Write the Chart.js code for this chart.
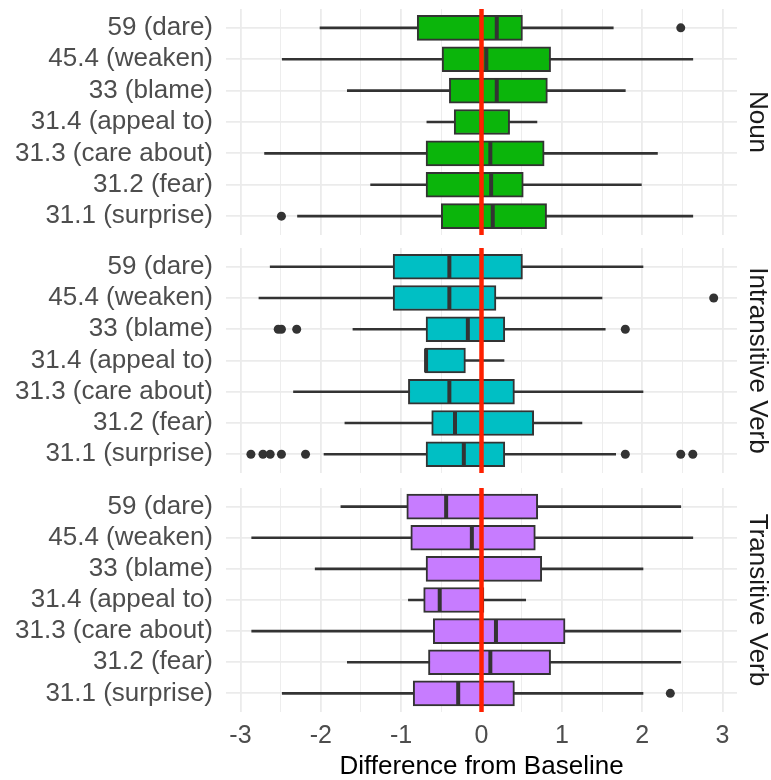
<!DOCTYPE html>
<html>
<head>
<meta charset="utf-8">
<script src="https://cdn.jsdelivr.net/npm/chart.js@4.4.1/dist/chart.umd.min.js"></script>
<style>
  html, body { margin: 0; padding: 0; background: #fff; }
  #wrap { position: relative; width: 771px; height: 780px; overflow: hidden; }
  canvas { position: absolute; left: 0; }
</style>
</head>
<body>
<div id="wrap">
  <canvas id="panel0" width="771" height="242" style="top:0px"></canvas>
  <canvas id="panel1" width="771" height="239" style="top:242px"></canvas>
  <canvas id="panel2" width="771" height="299" style="top:481px"></canvas>
</div>
<script>
// ---------- data ----------
const CATEGORIES = [
  "59 (dare)", "45.4 (weaken)", "33 (blame)", "31.4 (appeal to)",
  "31.3 (care about)", "31.2 (fear)", "31.1 (surprise)"
];
const PANELS = ["Noun", "Intransitive Verb", "Transitive Verb"];
const X_TICKS = [-3, -2, -1, 0, 1, 2, 3];
const BASELINE = 0;
const AXIS_TITLE = "Difference from Baseline";

// rows follow CATEGORIES (top to bottom)
const NOUN_LO  = [-2.01, -2.48, -1.67, -0.68, -2.70, -1.38, -2.29];
const NOUN_Q1  = [-0.80, -0.49, -0.40, -0.34, -0.69, -0.69, -0.50];
const NOUN_MED = [ 0.19,  0.06,  0.19,  0.00,  0.11,  0.12,  0.14];
const NOUN_Q3  = [ 0.51,  0.86,  0.82,  0.35,  0.78,  0.52,  0.81];
const NOUN_HI  = [ 1.64,  2.63,  1.79,  0.69,  2.19,  1.99,  2.63];
const NOUN_OUT = [[0, 2.48], [6, -2.49]]; // [row, value]

const IV_LO  = [-2.63, -2.77, -1.60, -0.70, -2.34, -1.70, -1.96];
const IV_Q1  = [-1.10, -1.10, -0.69, -0.70, -0.91, -0.62, -0.69];
const IV_MED = [-0.40, -0.40, -0.17, -0.69, -0.40, -0.33, -0.22];
const IV_Q3  = [ 0.51,  0.18,  0.29, -0.20,  0.41,  0.65,  0.29];
const IV_HI  = [ 2.01,  1.50,  1.54,  0.28,  2.01,  1.25,  1.67];
const IV_OUT = [
  [1, 2.89],
  [2, -2.53], [2, -2.49], [2, -2.30], [2, 1.79],
  [6, -2.87], [6, -2.72], [6, -2.63], [6, -2.49], [6, -2.19],
  [6, 1.79], [6, 2.48], [6, 2.63]
];

const TV_LO  = [-1.75, -2.86, -2.07, -0.91, -2.86, -1.67, -2.48];
const TV_Q1  = [-0.93, -0.88, -0.69, -0.72, -0.60, -0.66, -0.85];
const TV_MED = [-0.44, -0.12,  0.00, -0.52,  0.18,  0.11, -0.29];
const TV_Q3  = [ 0.70,  0.67,  0.75,  0.03,  1.04,  0.86,  0.41];
const TV_HI  = [ 2.48,  2.63,  2.01,  0.55,  2.48,  2.48,  2.01];
const TV_OUT = [[6, 2.35]];

const FILLS = ["#0BB50B", "#00BFC4", "#C77CFF"];

// ---------- style ----------
const FONT = "'Liberation Sans', Arial, Helvetica, sans-serif";
const INK = "#333333";
const GRID = "#EBEBEB";

// grid ticks: integers + half steps (minor lines)
function gridTicks() {
  const t = [];
  for (let i = 0; i < X_TICKS.length; i++) {
    t.push({ value: X_TICKS[i] });
    if (i < X_TICKS.length - 1) t.push({ value: (X_TICKS[i] + X_TICKS[i + 1]) / 2 });
  }
  return t;
}

const facetPlugin = {
  id: "facet",
  afterDatasetsDraw(chart) {
    const { ctx, chartArea } = chart;
    const x = chart.scales.x.getPixelForValue(BASELINE);
    ctx.save();
    ctx.strokeStyle = "#FF2000";
    ctx.lineWidth = 4.5;
    ctx.beginPath();
    ctx.moveTo(x, chartArea.top);
    ctx.lineTo(x, chartArea.bottom);
    ctx.stroke();
    ctx.restore();
  },
  afterDraw(chart, args, opts) {
    const { ctx, chartArea } = chart;
    ctx.save();
    ctx.translate(757, (chartArea.top + chartArea.bottom) / 2);
    ctx.rotate(Math.PI / 2);
    ctx.font = "26px " + FONT;
    ctx.fillStyle = "#1A1A1A";
    ctx.textAlign = "center";
    ctx.textBaseline = "middle";
    ctx.fillText(opts.label, 0, 0);
    ctx.restore();
  }
};

function makePanel(id, p, lo, q1, med, q3, hi, out, pad) {
  const rows = CATEGORIES.map((_, i) => i);
  const bottom = p === PANELS.length - 1;

  const datasets = [
    {
      type: "bar",
      order: 4,
      data: rows.map(i => ({ y: i, x: [lo[i], hi[i]] })),
      backgroundColor: INK,
      borderWidth: 0,
      barThickness: 2,
      grouped: false
    },
    {
      type: "bar",
      order: 3,
      data: rows.map(i => ({ y: i, x: [q1[i], q3[i]] })),
      backgroundColor: FILLS[p],
      borderColor: INK,
      borderWidth: 2,
      borderSkipped: false,
      barThickness: 25,
      grouped: false
    },
    {
      type: "scatter",
      order: 2,
      data: rows.map(i => ({ y: i, x: med[i] })),
      pointStyle: "line",
      pointRotation: 90,
      pointRadius: 12,
      pointBorderWidth: 4,
      pointBorderColor: INK
    },
    {
      type: "scatter",
      order: 1,
      data: out.map(o => ({ y: o[0], x: o[1] })),
      pointStyle: "circle",
      pointRadius: 4.5,
      pointBorderWidth: 0,
      pointBackgroundColor: INK
    }
  ];

  return new Chart(document.getElementById(id), {
    type: "bar",
    data: { datasets },
    plugins: [facetPlugin],
    options: {
      indexAxis: "y",
      responsive: false,
      animation: false,
      devicePixelRatio: 1,
      events: [],
      layout: {
        autoPadding: false,
        padding: { top: pad[0], bottom: pad[1], left: 0, right: 34 }
      },
      plugins: {
        legend: { display: false },
        tooltip: { enabled: false },
        facet: { label: PANELS[p] }
      },
      scales: {
        x: {
          type: "linear",
          min: -3.18,
          max: 3.18,
          offset: false,
          afterBuildTicks: s => { s.ticks = gridTicks(); },
          afterFit: s => {
            s.height = bottom ? 68 : 0;
            s.paddingLeft = 0;
            s.paddingRight = 0;
          },
          border: { display: false },
          grid: {
            color: GRID,
            drawTicks: false,
            offset: false,
            lineWidth: c => (Number.isInteger(c.tick.value) ? 1.8 : 0.9)
          },
          ticks: {
            display: bottom,
            autoSkip: false,
            maxRotation: 0,
            padding: 9,
            color: "#4D4D4D",
            font: { family: FONT, size: 25 },
            callback: v => (Number.isInteger(v) ? String(v) : "")
          },
          title: {
            display: bottom,
            text: AXIS_TITLE,
            color: "#000000",
            font: { family: FONT, size: 26, lineHeight: 1.0 },
            padding: 0
          }
        },
        y: {
          type: "linear",
          min: -0.6,
          max: 6.6,
          reverse: true,
          offset: false,
          afterBuildTicks: s => { s.ticks = rows.map(i => ({ value: i })); },
          afterFit: s => {
            s.width = 226;
            s.paddingTop = 0;
            s.paddingBottom = 0;
          },
          border: { display: false },
          grid: { color: GRID, lineWidth: 1.8, drawTicks: false, offset: false },
          ticks: {
            autoSkip: false,
            padding: 13,
            color: "#4D4D4D",
            font: { family: FONT, size: 26 },
            callback: v => CATEGORIES[v]
          }
        }
      }
    }
  });
}

makePanel("panel0", 0, NOUN_LO, NOUN_Q1, NOUN_MED, NOUN_Q3, NOUN_HI, NOUN_OUT, [9, 7]);
makePanel("panel1", 1, IV_LO, IV_Q1, IV_MED, IV_Q3, IV_HI, IV_OUT, [6, 8]);
makePanel("panel2", 2, TV_LO, TV_Q1, TV_MED, TV_Q3, TV_HI, TV_OUT, [7, 0]);
</script>
</body>
</html>
